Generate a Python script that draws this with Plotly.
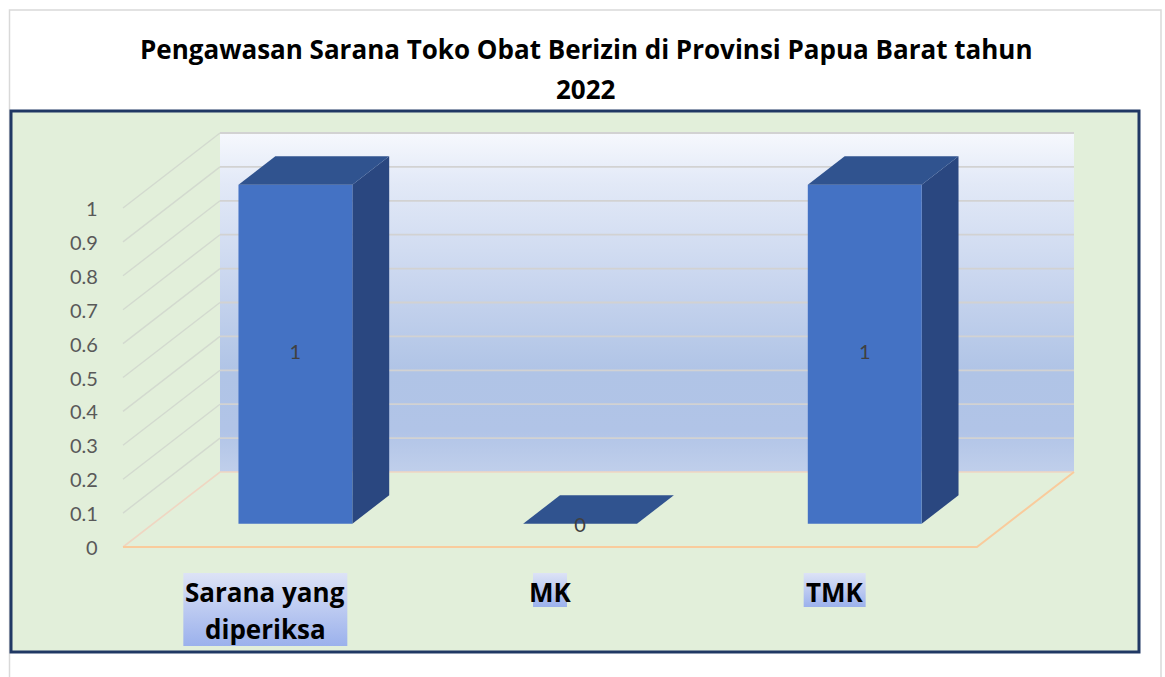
import plotly.graph_objects as go

# ---------------- data ----------------
categories = ["Sarana yang diperiksa", "MK", "TMK"]
values = [1, 0, 1]
value_labels = ["1", "0", "1"]
tick_values = [0, 0.1, 0.2, 0.3, 0.4, 0.5, 0.6, 0.7, 0.8, 0.9, 1.0]
tick_labels = ["0", "0.1", "0.2", "0.3", "0.4", "0.5", "0.6", "0.7", "0.8", "0.9", "1"]
title_lines = ["Pengawasan Sarana Toko Obat Berizin di Provinsi Papua Barat tahun", "2022"]
category_lines = [["Sarana yang", "diperiksa"], ["MK"], ["TMK"]]

# ---------------- layout constants (pixels) ----------------
W, H = 1165, 677
FX0, FX1 = 123, 977          # front floor edge, left/right
FY0, FY1 = 547, 208          # front plane y for value 0 and 1
DPX, DPY = 97, 75            # depth offset of back wall
BAR_W = 0.40                 # bar width as slot fraction
D0, D1 = 0.31, 0.69          # bar depth span (fraction of floor depth)

n = len(categories)
slot_px = (FX1 - FX0) / n
unit_px = FY0 - FY1
x_range = [(0 - FX0) / slot_px, (W - FX0) / slot_px]
y_range = [(FY0 - H) / unit_px, FY0 / unit_px]
ddx = DPX / slot_px
ddy = DPY / unit_px
ymax = max(tick_values)


def px2x(px):
    return (px - FX0) / slot_px


def py2y(py):
    return (FY0 - py) / unit_px


def pxw(w):
    return w / slot_px


def pyh(h):
    return h / unit_px


C_FRONT = "#4472C4"
C_TOP = "#30538F"
C_SIDE = "#2A4780"
C_GRID = "#D2D2D2"
C_ORANGE = "#F9CB9C"
C_ORANGE_PALE = "#EFD6C2"
FONT = "Lato"
FONT_B = "Open Sans"

fig = go.Figure()

# back wall with gradient
fig.add_trace(go.Scatter(
    x=[ddx, n + ddx, n + ddx, ddx, ddx],
    y=[ddy, ddy, ymax + ddy, ymax + ddy, ddy],
    mode="lines", line=dict(width=0), fill="toself",
    fillgradient=dict(type="vertical", start=ddy, stop=ymax + ddy,
                      colorscale=[[0, "#C0CFEB"], [0.12, "#B1C4E7"], [0.3, "#B0C4E6"],
                                  [0.55, "#C8D5EE"], [0.85, "#E2E9F7"], [1, "#F6F8FD"]]),
    hoverinfo="skip", showlegend=False))

# gridlines: back wall and left wall
for v in tick_values[1:]:
    fig.add_trace(go.Scatter(x=[ddx, n + ddx], y=[v + ddy, v + ddy], mode="lines",
                             line=dict(color=C_GRID, width=1.8), hoverinfo="skip", showlegend=False))
    fig.add_trace(go.Scatter(x=[0, ddx], y=[v, v + ddy], mode="lines",
                             line=dict(color="#D3DACF", width=1.4), hoverinfo="skip", showlegend=False))

# floor outline
fig.add_trace(go.Scatter(x=[0, ddx, n + ddx], y=[0, ddy, ddy], mode="lines",
                         line=dict(color=C_ORANGE_PALE, width=1.6), hoverinfo="skip", showlegend=False))
fig.add_trace(go.Scatter(x=[0, n, n + ddx], y=[0, 0, ddy], mode="lines",
                         line=dict(color=C_ORANGE, width=2), hoverinfo="skip", showlegend=False))

# 3D bars
for i, v in enumerate(values):
    xl = i + (1 - BAR_W) / 2
    xr = xl + BAR_W
    a0x, a0y = D0 * ddx, D0 * ddy
    a1x, a1y = D1 * ddx, D1 * ddy
    if v > 0:
        fig.add_trace(go.Scatter(
            x=[xr + a0x, xr + a1x, xr + a1x, xr + a0x, xr + a0x],
            y=[a0y, a1y, v + a1y, v + a0y, a0y],
            mode="lines", line=dict(width=0), fill="toself", fillcolor=C_SIDE,
            hoverinfo="skip", showlegend=False))
        fig.add_trace(go.Scatter(
            x=[xl + a0x, xr + a0x, xr + a0x, xl + a0x, xl + a0x],
            y=[a0y, a0y, v + a0y, v + a0y, a0y],
            mode="lines", line=dict(width=0), fill="toself", fillcolor=C_FRONT,
            hoverinfo="skip", showlegend=False))
    fig.add_trace(go.Scatter(
        x=[xl + a0x, xr + a0x, xr + a1x, xl + a1x, xl + a0x],
        y=[v + a0y, v + a0y, v + a1y, v + a1y, v + a0y],
        mode="lines", line=dict(width=0), fill="toself", fillcolor=C_TOP,
        hoverinfo="skip", showlegend=False))

# data labels
fig.add_trace(go.Scatter(
    x=[i + 0.5 + D0 * ddx for i in range(n)],
    y=[v / 2 + D0 * ddy - pyh(3 if v == 0 else 0) for v in values],
    mode="text", text=value_labels, textposition="middle center",
    textfont=dict(family=FONT, size=20, color="#404040"),
    hoverinfo="skip", showlegend=False))

# category label gradient boxes
box_w_px = [164, 34, 62]
LINE_PX = 37
BOX_TOP = 573
for i, lines in enumerate(category_lines):
    cx = i + 0.5
    hw = pxw(box_w_px[i]) / 2
    top = py2y(BOX_TOP)
    bot = py2y(BOX_TOP + LINE_PX * len(lines) - (3 if len(lines) == 1 else 1))
    fig.add_trace(go.Scatter(
        x=[cx - hw, cx + hw, cx + hw, cx - hw, cx - hw],
        y=[bot, bot, top, top, bot],
        mode="lines", line=dict(width=0), fill="toself",
        fillgradient=dict(type="vertical", start=bot, stop=top,
                          colorscale=[[0, "#9BB1EC"], [1, "#DDE3F6"]]),
        hoverinfo="skip", showlegend=False))

annotations = []
for i, lines in enumerate(category_lines):
    for k, line in enumerate(lines):
        annotations.append(dict(
            x=i + 0.5, y=py2y(BOX_TOP + LINE_PX * (k + 0.5)), xref="x", yref="y",
            text="<b>" + line + "</b>", showarrow=False, xanchor="center", yanchor="middle",
            font=dict(family=FONT_B, size=26, color="#000000")))

for v, lab in zip(tick_values, tick_labels):
    annotations.append(dict(
        x=px2x(100), y=v, xref="x", yref="y", text=lab, showarrow=False,
        xanchor="right", yanchor="middle",
        font=dict(family=FONT, size=20, color="#595959")))

title_y_px = [49, 89]
for t, ypx in zip(title_lines, title_y_px):
    annotations.append(dict(
        x=586 / W, y=1 - ypx / H, xref="paper", yref="paper", text="<b>" + t + "</b>",
        showarrow=False, xanchor="center", yanchor="middle",
        font=dict(family=FONT_B, size=26, color="#000000")))

shapes = [
    dict(type="rect", xref="paper", yref="paper", x0=9.5 / W, x1=1161 / W,
         y0=1 - 700 / H, y1=1 - 10 / H, line=dict(color="#D9D9D9", width=1.5),
         fillcolor="white", layer="below"),
    dict(type="rect", xref="paper", yref="paper", x0=11 / W, x1=1139 / W,
         y0=1 - 652 / H, y1=1 - 111 / H, line=dict(color="#203864", width=3),
         fillcolor="#E2EFDA", layer="below"),
]

fig.update_layout(
    width=W, height=H, margin=dict(l=0, r=0, t=0, b=0),
    paper_bgcolor="white", plot_bgcolor="rgba(0,0,0,0)",
    xaxis=dict(range=x_range, visible=False, fixedrange=True, domain=[0, 1]),
    yaxis=dict(range=y_range, visible=False, fixedrange=True, domain=[0, 1]),
    annotations=annotations, shapes=shapes, showlegend=False,
)

fig.write_html("out.html", config={"displayModeBar": False},
               post_script="document.body.style.margin='0';")
